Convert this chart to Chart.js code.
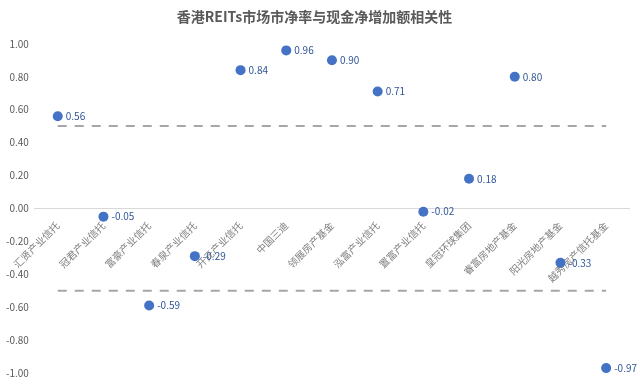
<!DOCTYPE html>
<html>
<head>
<meta charset="utf-8">
<script src="https://cdn.jsdelivr.net/npm/chart.js@4.4.1/dist/chart.umd.min.js"></script>
<style>
    html, body { margin: 0; padding: 0; background: #fff; }
    #wrap { width: 640px; height: 385px; }
</style>
</head>
<body>
<div id="wrap"><canvas id="corrChart" width="640" height="385"></canvas></div>
<script>
// REITs and correlation values
const reits = ['汇贤产业信托', '冠君产业信托', '富豪产业信托', '春泉产业信托', '开元产业信托', '中国三迪',
    '领展房产基金', '泓富产业信托', '置富产业信托', '皇冠环球集团', '睿富房地产基金', '阳光房地产基金', '越秀房产信托基金'];
const correlation = [0.56, -0.05, -0.59, -0.29, 0.84, 0.96, 0.90, 0.71, -0.02, 0.18, 0.80, -0.33, -0.97];
const upperBand = reits.map(() => 0.5);
const lowerBand = reits.map(() => -0.5);
const yTicks = [1, 0.8, 0.6, 0.4, 0.2, 0, -0.2, -0.4, -0.6, -0.8, -1];

const FONT = '"Noto Sans CJK SC", "Noto Sans", sans-serif';

// Simple value labels next to each point
const pointLabels = {
    id: 'pointLabels',
    afterDatasetsDraw(chart) {
        const ctx = chart.ctx;
        const meta = chart.getDatasetMeta(2);
        ctx.save();
        ctx.font = '10px ' + FONT;
        ctx.fillStyle = '#2f5597';
        ctx.textAlign = 'left';
        ctx.textBaseline = 'middle';
        meta.data.forEach((pt, i) => {
            ctx.fillText(correlation[i].toFixed(2), pt.x + 8, pt.y);
        });
        ctx.restore();
    }
};

new Chart(document.getElementById('corrChart').getContext('2d'), {
    type: 'line',
    data: {
        labels: reits,
        datasets: [
            {
                data: upperBand,
                borderColor: '#a6a6a6',
                borderWidth: 2,
                borderDash: [9, 8],
                pointRadius: 0,
                fill: false
            },
            {
                data: lowerBand,
                borderColor: '#a6a6a6',
                borderWidth: 2,
                borderDash: [9, 8],
                pointRadius: 0,
                fill: false
            },
            {
                data: correlation,
                showLine: false,
                pointRadius: 5,
                pointBackgroundColor: '#4472c4',
                pointBorderColor: '#4472c4',
                pointBorderWidth: 0
            }
        ]
    },
    options: {
        responsive: false,
        animation: false,
        layout: { autoPadding: false, padding: { top: 0, right: 11, bottom: 12, left: 0 } },
        plugins: {
            legend: { display: false },
            tooltip: { enabled: false },
            title: {
                display: true,
                text: '香港REITs市场市净率与现金净增加额相关性',
                color: '#595959',
                font: { family: FONT, size: 14, weight: 'bold' },
                padding: { top: 8, bottom: 19 }
            }
        },
        scales: {
            x: {
                position: { y: 0 },
                offset: true,
                grid: { display: false },
                border: { color: '#d9d9d9', width: 1 },
                ticks: {
                    color: '#7f7f7f',
                    font: { family: FONT, size: 10 },
                    maxRotation: 45,
                    minRotation: 45,
                    autoSkip: false,
                    padding: 3
                }
            },
            y: {
                min: -1,
                max: 1,
                afterBuildTicks(axis) {
                    axis.ticks = yTicks.map(v => ({ value: v }));
                },
                grid: { display: false, drawTicks: false },
                border: { display: false },
                ticks: {
                    color: '#595959',
                    font: { family: FONT, size: 10 },
                    padding: 6,
                    callback: v => Number(v).toFixed(2)
                }
            }
        }
    },
    plugins: [pointLabels]
});
</script>
</body>
</html>
